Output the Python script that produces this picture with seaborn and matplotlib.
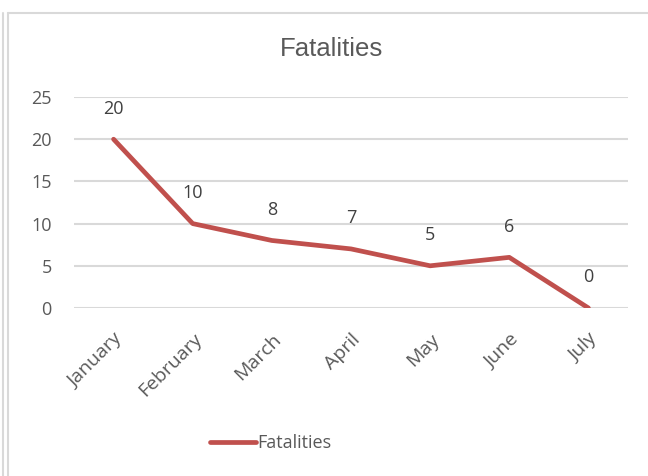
import pandas as pd
import matplotlib.pyplot as plt
import seaborn as sns
from matplotlib.lines import Line2D

# Chart data
months = ['January', 'February', 'March', 'April', 'May', 'June', 'July']
fatalities = [20, 10, 8, 7, 5, 6, 0]

df = pd.DataFrame({'Month': months, 'Fatalities': fatalities})
df['pos'] = range(len(months))

sns.set_style('white')
plt.rcParams['font.family'] = ['Open Sans', 'DejaVu Sans']

W, H = 648, 476
fig = plt.figure(figsize=(W / 100, H / 100), dpi=100)
ax = fig.add_axes([74 / W, (H - 308) / H, (628 - 74) / W, (308 - 97) / H])

line_color = '#C0504D'
text_color = '#595959'
grid_color = '#D9D9D9'

sns.lineplot(data=df, x='pos', y='Fatalities', ax=ax, color=line_color,
             linewidth=3.4, label='Fatalities', solid_capstyle='round')

# Data labels above each point
for x, y in zip(df['pos'], df['Fatalities']):
    ax.annotate(str(y), (x, y), xytext=(0, 22), textcoords='offset points',
                ha='center', va='center', fontsize=13, color='#404040')

ax.set_xlim(-0.5, 6.5)
ax.set_ylim(0, 25)
ax.set_yticks(range(0, 26, 5))
ax.set_xticks(df['pos'])
ax.set_xticklabels(months, rotation=45, ha='right', va='top', rotation_mode='anchor')
ax.tick_params(axis='both', length=0, labelcolor=text_color)
ax.tick_params(axis='y', pad=16, labelsize=13)
ax.tick_params(axis='x', pad=16, labelsize=14)
ax.grid(axis='y', color=grid_color, linewidth=1.5)
ax.set_axisbelow(True)
for s in ax.spines.values():
    s.set_visible(False)
ax.set_xlabel('')
ax.set_ylabel('')

fig.text(331 / W, 1 - 49 / H, 'Fatalities', ha='center', va='center',
         fontsize=18.5, color=text_color, family=['Liberation Sans', 'DejaVu Sans'])

ax.legend(loc='center', bbox_to_anchor=(271 / W, 1 - 443 / H), bbox_transform=fig.transFigure,
          frameon=False, fontsize=13, labelcolor=text_color, handlelength=2.5,
          handletextpad=0.1)

# Chart frame lines
fig.add_artist(Line2D([2.5 / W, 2.5 / W], [0, 1 - 13 / H], color=grid_color, linewidth=1.5))
fig.add_artist(Line2D([7.5 / W, 7.5 / W], [0, 1 - 13 / H], color=grid_color, linewidth=1.5))
fig.add_artist(Line2D([7.5 / W, 1], [1 - 13 / H, 1 - 13 / H], color=grid_color, linewidth=1.5))

fig.savefig('out.png', dpi=100)
